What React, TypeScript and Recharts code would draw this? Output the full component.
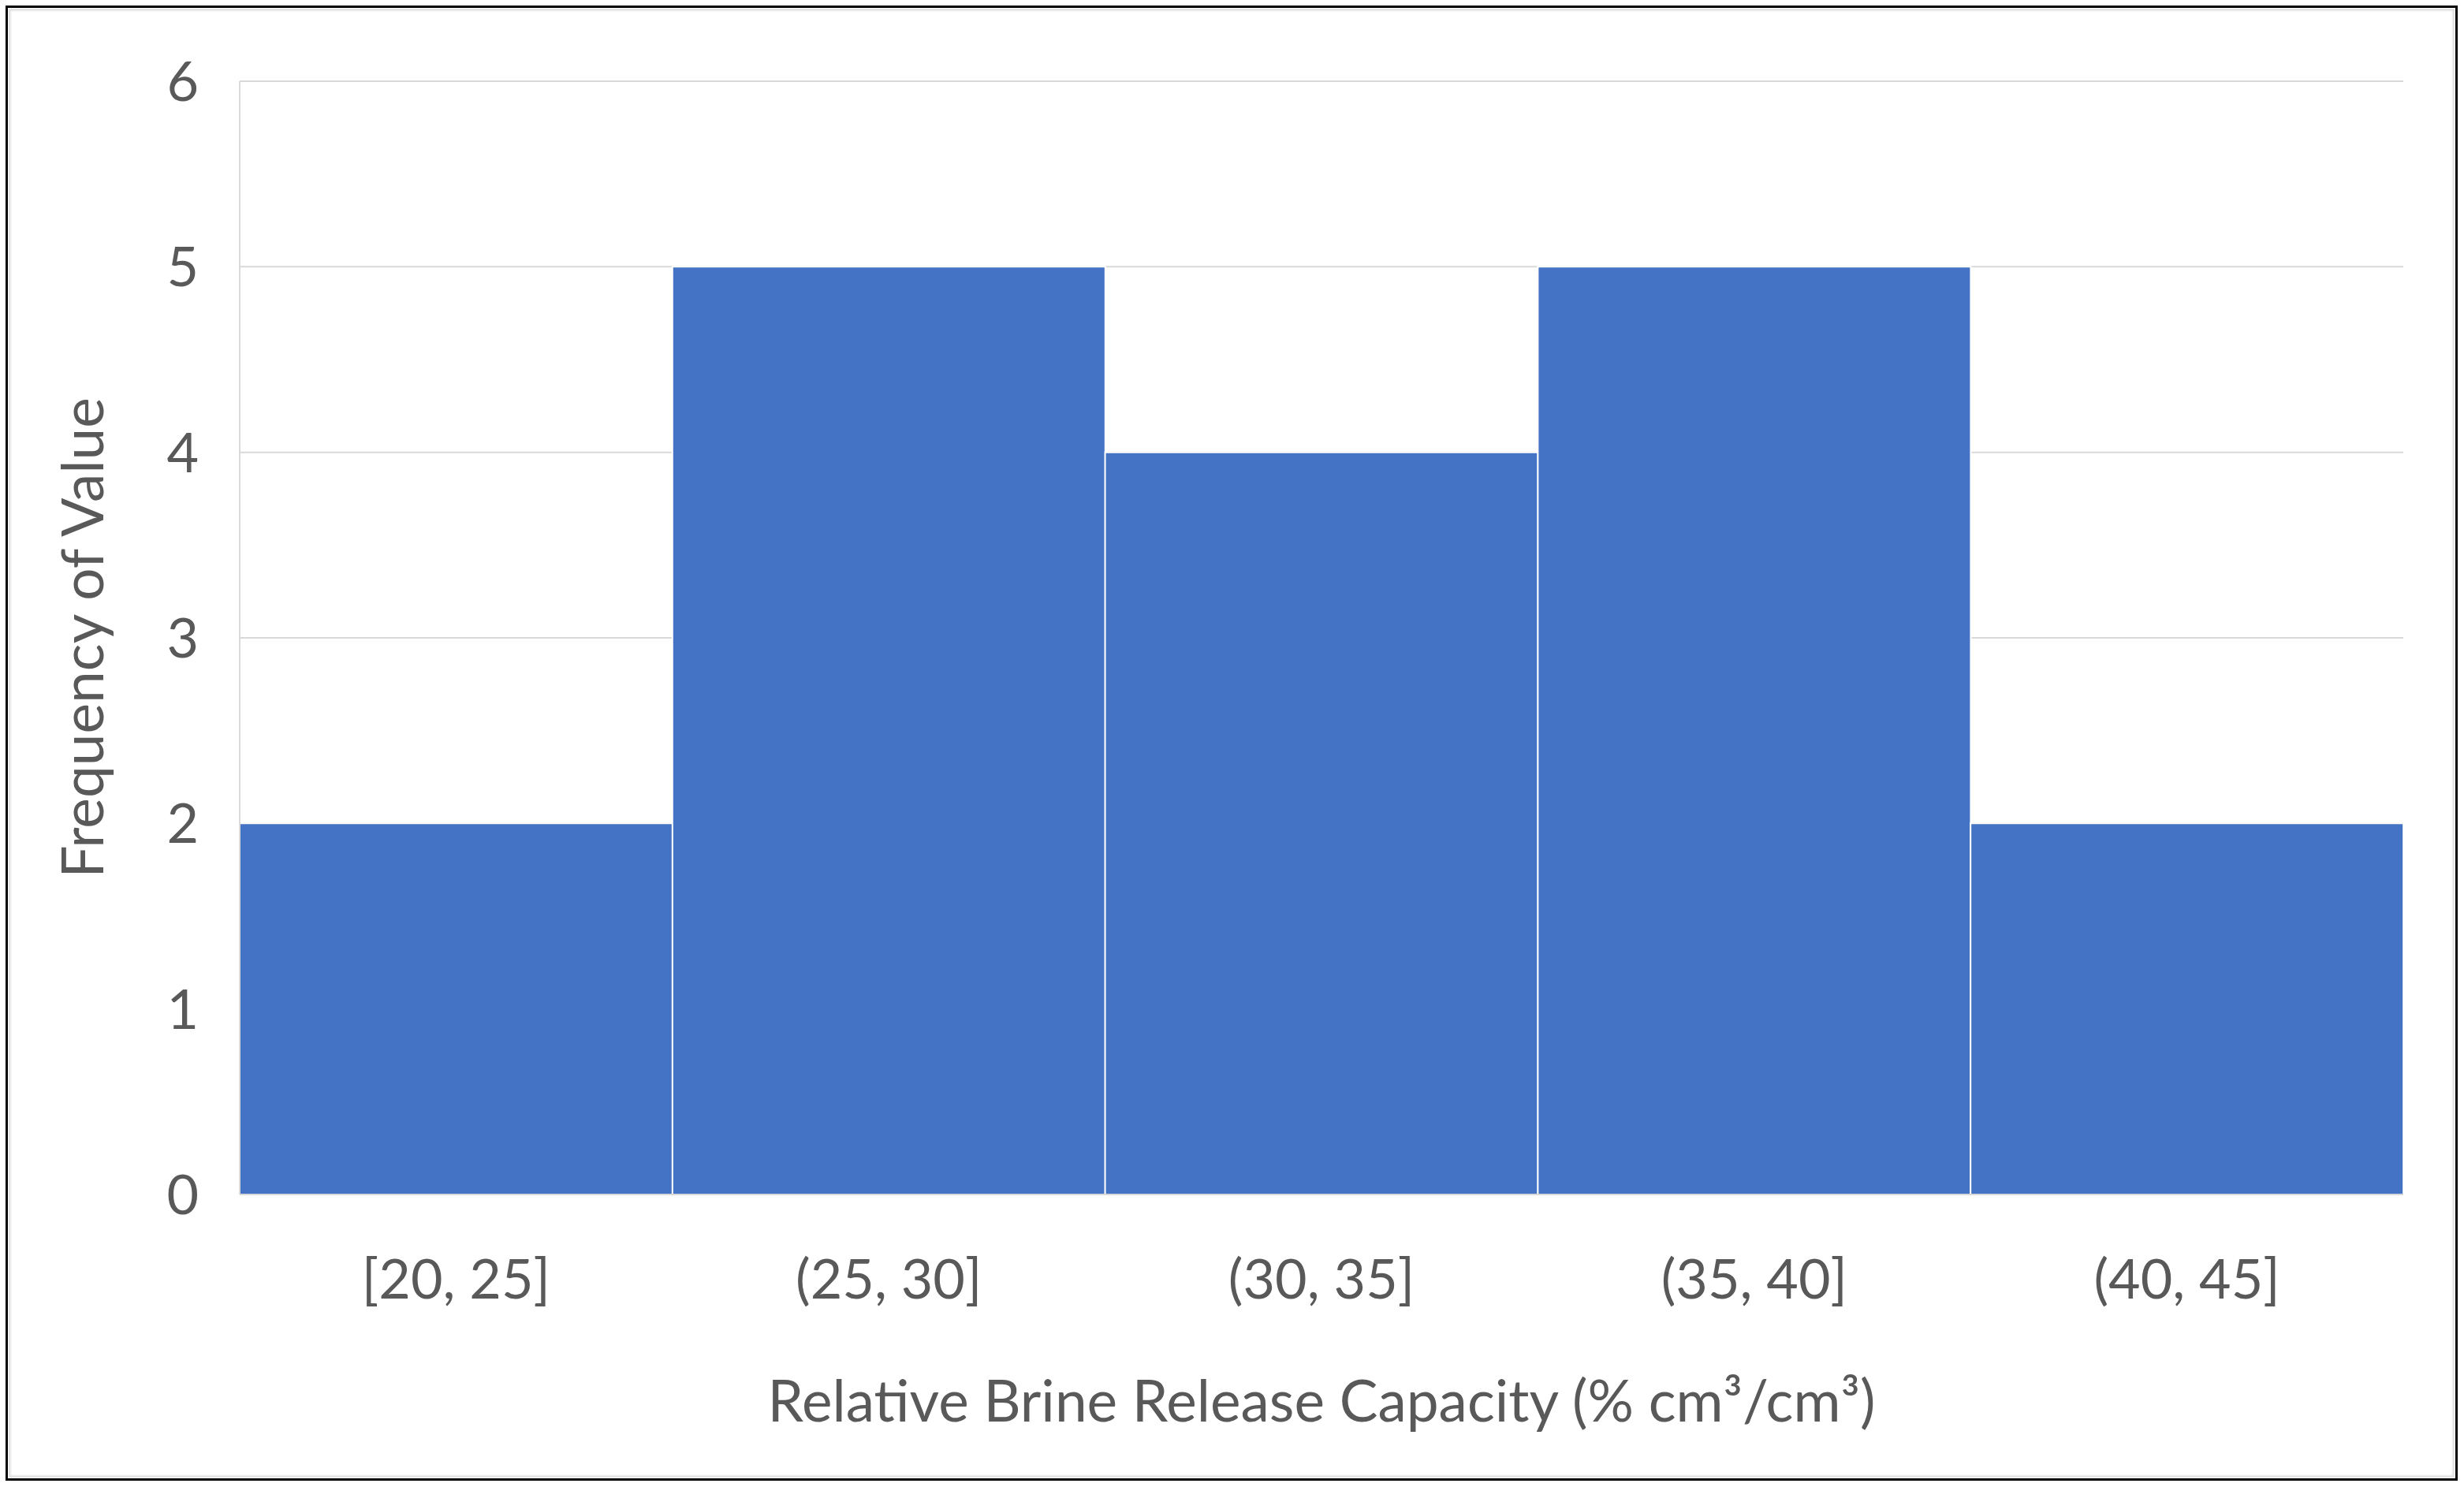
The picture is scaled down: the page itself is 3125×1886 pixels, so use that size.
import { BarChart, Bar, XAxis, YAxis, CartesianGrid, Label } from 'recharts';

const bins = ['[20, 25]', '(25, 30]', '(30, 35]', '(35, 40]', '(40, 45]'];
const counts = [2, 5, 4, 5, 2];
const yTicks = [0, 1, 2, 3, 4, 5, 6];

const data = bins.map((bin, i) => ({ bin, count: counts[i] }));

const FONT = 'Lato, "Open Sans", sans-serif';
const GREY = '#595959';

function App() {
  return (
    <div style={{ position: 'absolute', left: 0, top: 0, width: 3125, height: 1886, background: '#fff' }}>
      <div
        style={{
          position: 'absolute',
          left: 7,
          top: 7,
          width: 3110,
          height: 1871,
          boxSizing: 'border-box',
          border: '3px solid #000',
        }}
      >
        <div
          style={{
            position: 'absolute',
            inset: 1,
            border: '2px solid #e3e3e3',
            boxShadow: 'inset 0 0 3px #d0d0d0',
          }}
        />
      </div>
      <div style={{ position: 'absolute', left: 0, top: 0 }}>
        <BarChart
          width={3125}
          height={1886}
          data={data}
          margin={{ top: 103, right: 77, left: 0, bottom: 0 }}
          barCategoryGap={0}
        >
          <CartesianGrid vertical={false} stroke="#d9d9d9" strokeWidth={2} />
          <XAxis
            dataKey="bin"
            height={371}
            tickLine={false}
            tickSize={0}
            tickMargin={82}
            axisLine={{ stroke: '#d9d9d9', strokeWidth: 2 }}
            tick={{ fill: GREY, fontSize: 70, fontFamily: FONT }}
          >
            <Label
              content={({ viewBox }: any) => (
                <text
                  x={viewBox.x + viewBox.width / 2}
                  y={1803}
                  textAnchor="middle"
                  fill={GREY}
                  fontSize={73}
                  fontFamily={FONT}
                >
                  Relative Brine Release Capacity (% cm³/cm³)
                </text>
              )}
            />
          </XAxis>
          <YAxis
            width={304}
            domain={[0, 6]}
            ticks={yTicks}
            interval={0}
            tickLine={false}
            tickSize={0}
            tickMargin={52}
            axisLine={{ stroke: '#d9d9d9', strokeWidth: 2 }}
            tick={{ fill: GREY, fontSize: 70, fontFamily: FONT }}
          >
            <Label
              content={({ viewBox }: any) => {
                const cx = 131;
                const cy = viewBox.y + viewBox.height / 2;
                return (
                  <text
                    x={cx}
                    y={cy}
                    transform={`rotate(-90 ${cx} ${cy})`}
                    textAnchor="middle"
                    fill={GREY}
                    fontSize={73}
                    fontFamily={FONT}
                  >
                    Frequency of Value
                  </text>
                );
              }}
            />
          </YAxis>
          <Bar dataKey="count" fill="#4472c4" stroke="#fff" strokeWidth={2} isAnimationActive={false} />
        </BarChart>
      </div>
    </div>
  );
}

export default App;
